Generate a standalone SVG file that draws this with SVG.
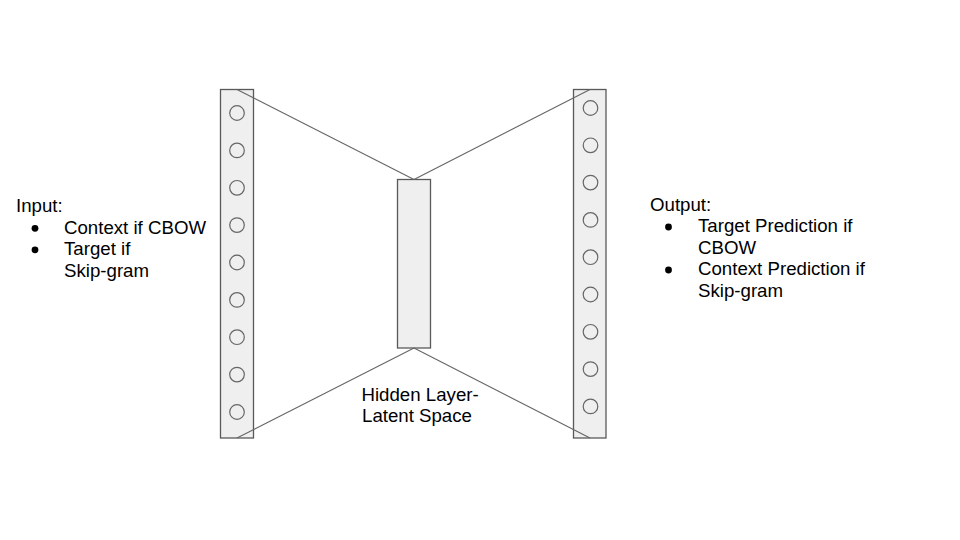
<svg xmlns="http://www.w3.org/2000/svg" width="960" height="540" viewBox="0 0 960 540">
<style>
.bar{fill:#efefef;stroke:#595959;stroke-width:1.3}
.c{fill:none;stroke:#666;stroke-width:1.2}
.ln{stroke:#666;stroke-width:1.1;fill:none}
text{font-family:"Liberation Sans",Arial,sans-serif;font-size:18.67px;fill:#000}
</style>
<rect width="960" height="540" fill="#fff"/>
<g id="input-layer">
<rect class="bar" x="220.5" y="89.5" width="33" height="348.5"/>
<circle class="c" cx="237" cy="113" r="7.3"/>
<circle class="c" cx="237" cy="150.4" r="7.3"/>
<circle class="c" cx="237" cy="187.8" r="7.3"/>
<circle class="c" cx="237" cy="225.1" r="7.3"/>
<circle class="c" cx="237" cy="262.5" r="7.3"/>
<circle class="c" cx="237" cy="299.9" r="7.3"/>
<circle class="c" cx="237" cy="337.2" r="7.3"/>
<circle class="c" cx="237" cy="374.6" r="7.3"/>
<circle class="c" cx="237" cy="412" r="7.3"/>
</g>
<g id="output-layer">
<rect class="bar" x="573.5" y="89.5" width="32.5" height="348.5"/>
<circle class="c" cx="590.5" cy="108" r="7.3"/>
<circle class="c" cx="590.5" cy="145.3" r="7.3"/>
<circle class="c" cx="590.5" cy="182.6" r="7.3"/>
<circle class="c" cx="590.5" cy="219.9" r="7.3"/>
<circle class="c" cx="590.5" cy="257.2" r="7.3"/>
<circle class="c" cx="590.5" cy="294.5" r="7.3"/>
<circle class="c" cx="590.5" cy="331.8" r="7.3"/>
<circle class="c" cx="590.5" cy="369.1" r="7.3"/>
<circle class="c" cx="590.5" cy="406.4" r="7.3"/>
</g>
<g id="hidden-layer">
<rect class="bar" x="397.5" y="179.5" width="33" height="168.5"/>
<text x="361.5" y="400.7">Hidden Layer-</text>
<text x="362" y="422.3">Latent Space</text>
</g>
<g id="connectors">
<line class="ln" x1="237" y1="89.5" x2="414" y2="179.5"/>
<line class="ln" x1="590" y1="89.5" x2="414" y2="179.5"/>
<line class="ln" x1="237" y1="438" x2="414" y2="348"/>
<line class="ln" x1="590" y1="438" x2="414" y2="348"/>
</g>
<g id="input-label">
<text x="16" y="212">Input:</text>
<circle cx="35" cy="228.3" r="3.4" fill="#000"/>
<text x="64" y="233.5">Context if CBOW</text>
<circle cx="35" cy="249.8" r="3.4" fill="#000"/>
<text x="64" y="255">Target if</text>
<text x="64" y="276.5">Skip-gram</text>
</g>
<g id="output-label">
<text x="650" y="210.7">Output:</text>
<circle cx="668.5" cy="227" r="3.4" fill="#000"/>
<text x="698" y="232.2">Target Prediction if</text>
<text x="698" y="253.7">CBOW</text>
<circle cx="668.5" cy="270" r="3.4" fill="#000"/>
<text x="698" y="275.2">Context Prediction if</text>
<text x="698" y="296.7">Skip-gram</text>
</g>
</svg>
